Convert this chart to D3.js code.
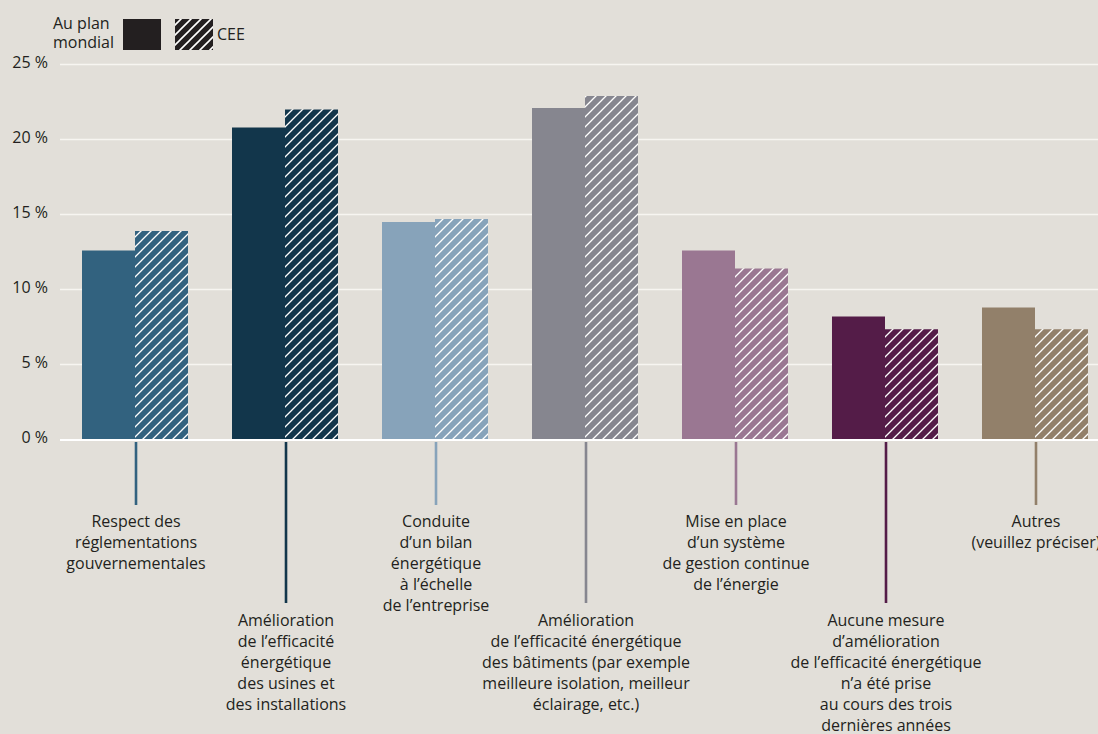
<!DOCTYPE html>
<html>
<head>
<meta charset="utf-8">
<script src="https://cdn.jsdelivr.net/npm/d3@7"></script>
<style>
    html, body { margin: 0; padding: 0; background: #e2dfd9; }
    svg { display: block; font-family: 'Open Sans', sans-serif; }
</style>
</head>
<body>
<svg id="chart" width="1098" height="734"></svg>
<script>
// data
const categories = [
    'regl', 'usines', 'bilan', 'batiments', 'gestion', 'aucune', 'autres',
];
const labels = [
    ['Respect des', 'réglementations', 'gouvernementales'],
    ['Amélioration', 'de l’efficacité', 'énergétique', 'des usines et', 'des installations'],
    ['Conduite', 'd’un bilan', 'énergétique', 'à l’échelle', 'de l’entreprise'],
    ['Amélioration', 'de l’efficacité énergétique', 'des bâtiments (par exemple', 'meilleure isolation, meilleur', 'éclairage, etc.)'],
    ['Mise en place', 'd’un système', 'de gestion continue', 'de l’énergie'],
    ['Aucune mesure', 'd’amélioration', 'de l’efficacité énergétique', 'n’a été prise', 'au cours des trois', 'dernières années'],
    ['Autres', '(veuillez préciser)'],
];
const mondial = [12.6, 20.8, 14.5, 22.1, 12.6, 8.2, 8.8];
const cee = [13.9, 22.0, 14.7, 22.9, 11.4, 7.35, 7.35];
const colors = ['#32627f', '#12364b', '#87a3ba', '#86868f', '#9a7792', '#541c48', '#92806a'];
const yTicks = [0, 5, 10, 15, 20, 25];
const series = ['mondial', 'cee'];

const svg = d3.select('#chart');
const textColor = '#231f20';

// hatch patterns, one per bar colour (+ one for the legend)
const defs = svg.append('defs');
function hatch(id, base, sw) {
    const p = defs.append('pattern')
        .attr('id', id)
        .attr('patternUnits', 'userSpaceOnUse')
        .attr('width', 10)
        .attr('height', 10);
    p.append('rect').attr('width', 10).attr('height', 10).attr('fill', base);
    p.append('path')
        .attr('d', 'M-1,1 l2,-2 M0,10 l10,-10 M9,11 l2,-2')
        .attr('stroke', '#ffffff')
        .attr('stroke-width', sw);
}
colors.forEach((c, i) => hatch('hatch' + i, c, 1.3));
hatch('hatchLegend', textColor, 1.6);

const x = d3.scaleBand()
    .domain(categories)
    .range([60, 1110])
    .paddingInner(0.2933)
    .paddingOuter(0.1467);

const xInner = d3.scaleBand()
    .domain(series)
    .range([0, x.bandwidth()]);

const y = d3.scaleLinear().domain([0, 25]).range([439.5, 64.5]);

// grid lines
svg.append('g')
    .selectAll('line')
    .data(yTicks.filter((d) => d > 0))
    .join('line')
    .attr('x1', 60)
    .attr('x2', 1098)
    .attr('y1', (d) => y(d))
    .attr('y2', (d) => y(d))
    .attr('stroke', '#f7f5f1')
    .attr('stroke-width', 1.5);

// y tick labels
svg.append('g')
    .selectAll('text')
    .data(yTicks)
    .join('text')
    .attr('x', 48)
    .attr('y', (d) => y(d) - 2)
    .attr('dy', '0.35em')
    .attr('text-anchor', 'end')
    .attr('font-size', 16)
    .attr('fill', textColor)
    .text((d) => d + ' %');

// bars
const groups = svg.append('g')
    .selectAll('g')
    .data(categories)
    .join('g')
    .attr('transform', (d) => `translate(${x(d)},0)`);

groups.append('rect')
    .attr('x', xInner('mondial'))
    .attr('width', xInner.bandwidth())
    .attr('y', (d, i) => y(mondial[i]))
    .attr('height', (d, i) => y(0) - y(mondial[i]))
    .attr('fill', (d, i) => colors[i]);

groups.append('rect')
    .attr('x', xInner('cee'))
    .attr('width', xInner.bandwidth())
    .attr('y', (d, i) => y(cee[i]))
    .attr('height', (d, i) => y(0) - y(cee[i]))
    .attr('fill', (d, i) => `url(#hatch${i})`);

// zero line
svg.append('line')
    .attr('x1', 60)
    .attr('x2', 1098)
    .attr('y1', y(0) + 0.5)
    .attr('y2', y(0) + 0.5)
    .attr('stroke', '#ffffff')
    .attr('stroke-width', 2.2);

// leader lines + category labels, alternating short / long
const cx = (d) => x(d) + x.bandwidth() / 2 + 1;
groups.append('line')
    .attr('x1', x.bandwidth() / 2 + 1)
    .attr('x2', x.bandwidth() / 2 + 1)
    .attr('y1', 442)
    .attr('y2', (d, i) => (i % 2 ? 603 : 505))
    .attr('stroke', (d, i) => colors[i])
    .attr('stroke-width', 2.6);

groups.append('text')
    .attr('text-anchor', 'middle')
    .attr('font-size', 16)
    .attr('fill', textColor)
    .attr('transform', (d, i) => `translate(${x.bandwidth() / 2 + 1},${i % 2 ? 626 : 527})`)
    .selectAll('tspan')
    .data((d, i) => labels[i])
    .join('tspan')
    .attr('x', 0)
    .attr('y', (d, j) => j * 21)
    .text((d) => d);

// legend
const legend = svg.append('g').attr('font-size', 16).attr('fill', textColor);
legend.append('text').attr('x', 53).attr('y', 29).text('Au plan');
legend.append('text').attr('x', 53).attr('y', 48).text('mondial');
legend.append('rect').attr('x', 123).attr('y', 19).attr('width', 38).attr('height', 31).attr('fill', textColor);
legend.append('rect').attr('x', 175).attr('y', 19).attr('width', 38).attr('height', 31).attr('fill', 'url(#hatchLegend)');
legend.append('text').attr('x', 217).attr('y', 40).text('CEE');
</script>
</body>
</html>
